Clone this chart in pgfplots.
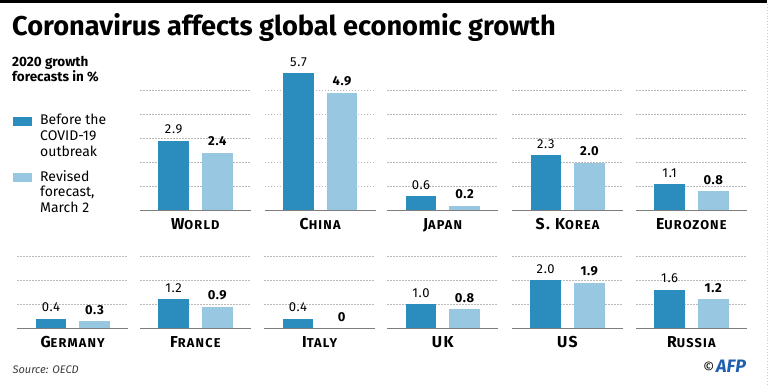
\documentclass[border=0pt]{standalone}
\usepackage{pgfplots}
\pgfplotsset{compat=1.18}
\usepackage{fontspec}
\setmainfont{Fira Sans}
\definecolor{darkb}{RGB}{43,140,190}
\definecolor{lightb}{RGB}{152,200,225}
\definecolor{gridc}{RGB}{185,185,185}
\definecolor{basec}{RGB}{125,125,125}
\definecolor{afpblue}{RGB}{30,95,175}
\definecolor{edgec}{RGB}{228,208,150}
\newcommand\SC[2]{{\bfseries\addfontfeature{LetterSpace=9}\fontsize{15.8}{16}\selectfont #1\fontsize{12.8}{13}\selectfont #2}}
\pgfplotsset{
 panel/.style={scale only axis, width=110.7pt, height=#1*24.1pt,
  xmin=0,xmax=1,ymin=0,ymax=#1, enlargelimits=false, clip=false,
  axis line style={draw=none}, xtick=\empty, ytick={1,...,#1}, yticklabels={},
  major tick length=0pt, ymajorgrids,
  major grid style={gridc, dash pattern=on 1.5pt off 1.5pt, line width=0.6pt},
  anchor=south west, point meta=explicit symbolic, nodes near coords,
  every node near coord/.append style={anchor=south, inner sep=0pt, yshift=6.5pt,
   font=\fontsize{13}{14}\selectfont\addfontfeature{LetterSpace=5}, text=black}},
 dk/.style={ybar, fill=darkb, draw=none, bar width=30.7pt, bar shift=0pt},
 lt/.style={ybar, fill=lightb, draw=none, bar width=30.7pt, bar shift=0pt,
  every node near coord/.append style={font=\fontsize{13}{14}\selectfont\bfseries\addfontfeature{LetterSpace=5}}},
}
\newcommand\baseln{\draw[basec, line width=1.2pt] (rel axis cs:0,0) -- (rel axis cs:1,0);}
\newcommand\catlab[1]{\node[anchor=base, inner sep=0pt, text=black] at (rel axis cs:0.5,0) [yshift=-18.7pt] {#1};}
\begin{document}
\begin{tikzpicture}
\useasboundingbox (0,0) rectangle (768pt,-385pt);
\fill[white] (0,0) rectangle (768pt,-385pt);
\fill[black] (0,0) rectangle (767pt,-3.5pt);
\draw[edgec, dotted, line width=0.9pt] (767pt,-4pt) -- (767pt,-385pt);
\node[anchor=base west, inner sep=0pt] at (12pt,-36pt) {\fontsize{27.2}{30}\selectfont\bfseries Coronavirus affects global economic growth};
% legend
\node[anchor=base west, inner sep=0pt] at (12pt,-66.7pt) {\fontsize{13.5}{15}\selectfont\bfseries 2020 growth};
\node[anchor=base west, inner sep=0pt] at (12pt,-81.7pt) {\fontsize{13.5}{15}\selectfont\bfseries forecasts in \%};
\fill[darkb] (12.7pt,-116.7pt) rectangle (32.3pt,-126pt);
\fill[lightb] (12.7pt,-173.3pt) rectangle (32.3pt,-181.7pt);
\node[anchor=base west, inner sep=0pt] at (40pt,-124.7pt) {\fontsize{14}{16}\selectfont Before the};
\node[anchor=base west, inner sep=0pt] at (40pt,-140.8pt) {\fontsize{14}{16}\selectfont COVID-19};
\node[anchor=base west, inner sep=0pt] at (40pt,-156.7pt) {\fontsize{14}{16}\selectfont outbreak};
\node[anchor=base west, inner sep=0pt] at (40pt,-181pt) {\fontsize{14}{16}\selectfont Revised};
\node[anchor=base west, inner sep=0pt] at (40pt,-196.7pt) {\fontsize{14}{16}\selectfont forecast,};
\node[anchor=base west, inner sep=0pt] at (40pt,-212.3pt) {\fontsize{14}{16}\selectfont March 2};
% top row
\begin{axis}[panel=5, at={(140pt,-210.7pt)}]
\addplot[dk] coordinates {(0.304,2.9) [2.9]};
\addplot[lt] coordinates {(0.698,2.4) [2.4]};
\baseln \catlab{\SC{W}{ORLD}}
\end{axis}
\begin{axis}[panel=5, at={(264.8pt,-210.7pt)}]
\addplot[dk] coordinates {(0.304,5.7) [5.7]};
\addplot[lt] coordinates {(0.698,4.9) [4.9]};
\baseln \catlab{\SC{C}{HINA}}
\end{axis}
\begin{axis}[panel=5, at={(387.3pt,-210.7pt)}]
\addplot[dk] coordinates {(0.304,0.6) [0.6]};
\addplot[lt] coordinates {(0.698,0.2) [0.2]};
\baseln \catlab{\SC{J}{APAN}}
\end{axis}
\begin{axis}[panel=5, at={(512.2pt,-210.7pt)}]
\addplot[dk] coordinates {(0.304,2.3) [2.3]};
\addplot[lt] coordinates {(0.698,2.0) [2.0]};
\baseln \catlab{\SC{S. K}{OREA}}
\end{axis}
\begin{axis}[panel=5, at={(636pt,-210.7pt)}]
\addplot[dk] coordinates {(0.304,1.1) [1.1]};
\addplot[lt] coordinates {(0.698,0.8) [0.8]};
\baseln \catlab{\SC{E}{UROZONE}}
\end{axis}
% bottom row
\begin{axis}[panel=3, at={(17.3pt,-328.3pt)}]
\addplot[dk] coordinates {(0.304,0.4) [0.4]};
\addplot[lt] coordinates {(0.698,0.3) [0.3]};
\baseln \catlab{\SC{G}{ERMANY}}
\end{axis}
\begin{axis}[panel=3, at={(140pt,-328.3pt)}]
\addplot[dk] coordinates {(0.304,1.2) [1.2]};
\addplot[lt] coordinates {(0.698,0.9) [0.9]};
\baseln \catlab{\SC{F}{RANCE}}
\end{axis}
\begin{axis}[panel=3, at={(264.3pt,-328.3pt)}]
\addplot[dk] coordinates {(0.304,0.4) [0.4]};
\addplot[lt] coordinates {(0.698,0) [0]};
\baseln \catlab{\SC{I}{TALY}}
\end{axis}
\begin{axis}[panel=3, at={(387.3pt,-328.3pt)}]
\addplot[dk] coordinates {(0.304,1.0) [1.0]};
\addplot[lt] coordinates {(0.698,0.8) [0.8]};
\baseln \catlab{\SC{UK}{}}
\end{axis}
\begin{axis}[panel=3, at={(512pt,-328.3pt)}]
\addplot[dk] coordinates {(0.304,2.0) [2.0]};
\addplot[lt] coordinates {(0.698,1.9) [1.9]};
\baseln \catlab{\SC{US}{}}
\end{axis}
\begin{axis}[panel=3, at={(636pt,-328.3pt)}]
\addplot[dk] coordinates {(0.304,1.6) [1.6]};
\addplot[lt] coordinates {(0.698,1.2) [1.2]};
\baseln \catlab{\SC{R}{USSIA}}
\end{axis}
% footer
\node[anchor=base west, inner sep=0pt, text={rgb,255:red,60;green,60;blue,60}] at (12.5pt,-373pt) {\fontsize{11}{13}\selectfont\itshape Source: OECD};
\node[anchor=base west, inner sep=0pt] at (703pt,-372.5pt) {\fontsize{14}{14}\selectfont ©};
\node[anchor=base west, inner sep=0pt, text=afpblue] at (716pt,-372.5pt) {\fontsize{18}{18}\selectfont\bfseries\itshape AFP};
\end{tikzpicture}
\end{document}
